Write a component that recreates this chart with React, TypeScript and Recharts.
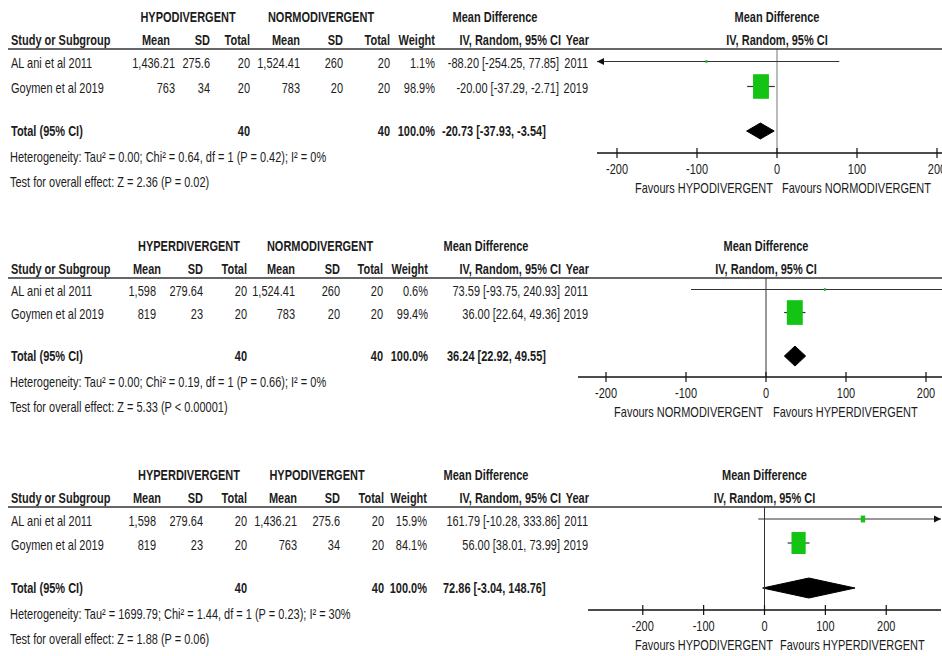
import React from 'react';
import { ComposedChart, XAxis, YAxis, Line, Scatter, Area, ReferenceLine } from 'recharts';

// no narrow face installed: Liberation Sans squeezed to Arial Narrow proportions
const FONT = "'Liberation Sans', Arial, sans-serif";
const SQUEEZE = 0.785;
const INK = '#1c1c1c';
const GREEN = '#14c414';

// shared rows
const STUDIES = ['AL ani et al 2011', 'Goymen et al 2019'];
const YEARS = ['2011', '2019'];
const TICKS = [-200, -100, 0, 100, 200];

// panel 1: hypo vs normo
const P1_GROUPS = ['HYPODIVERGENT', 'NORMODIVERGENT'];
const P1_EXP_MEAN = ['1,436.21', '763'];
const P1_EXP_SD = ['275.6', '34'];
const P1_EXP_N = [20, 20];
const P1_CTL_MEAN = ['1,524.41', '783'];
const P1_CTL_SD = ['260', '20'];
const P1_CTL_N = [20, 20];
const P1_WEIGHT = [1.1, 98.9];
const P1_MD = [-88.2, -20.0];
const P1_LO = [-254.25, -37.29];
const P1_HI = [77.85, -2.71];
const P1_TOTAL = [-20.73, -37.93, -3.54];
const P1_HET = 'Heterogeneity: Tau² = 0.00; Chi² = 0.64, df = 1 (P = 0.42); I² = 0%';
const P1_TEST = 'Test for overall effect: Z = 2.36 (P = 0.02)';
const P1_FAVOURS = ['Favours HYPODIVERGENT', 'Favours NORMODIVERGENT'];

// panel 2: hyper vs normo
const P2_GROUPS = ['HYPERDIVERGENT', 'NORMODIVERGENT'];
const P2_EXP_MEAN = ['1,598', '819'];
const P2_EXP_SD = ['279.64', '23'];
const P2_EXP_N = [20, 20];
const P2_CTL_MEAN = ['1,524.41', '783'];
const P2_CTL_SD = ['260', '20'];
const P2_CTL_N = [20, 20];
const P2_WEIGHT = [0.6, 99.4];
const P2_MD = [73.59, 36.0];
const P2_LO = [-93.75, 22.64];
const P2_HI = [240.93, 49.36];
const P2_TOTAL = [36.24, 22.92, 49.55];
const P2_HET = 'Heterogeneity: Tau² = 0.00; Chi² = 0.19, df = 1 (P = 0.66); I² = 0%';
const P2_TEST = 'Test for overall effect: Z = 5.33 (P < 0.00001)';
const P2_FAVOURS = ['Favours NORMODIVERGENT', 'Favours HYPERDIVERGENT'];

// panel 3: hyper vs hypo
const P3_GROUPS = ['HYPERDIVERGENT', 'HYPODIVERGENT'];
const P3_EXP_MEAN = ['1,598', '819'];
const P3_EXP_SD = ['279.64', '23'];
const P3_EXP_N = [20, 20];
const P3_CTL_MEAN = ['1,436.21', '763'];
const P3_CTL_SD = ['275.6', '34'];
const P3_CTL_N = [20, 20];
const P3_WEIGHT = [15.9, 84.1];
const P3_MD = [161.79, 56.0];
const P3_LO = [-10.28, 38.01];
const P3_HI = [333.86, 73.99];
const P3_TOTAL = [72.86, -3.04, 148.76];
const P3_HET = 'Heterogeneity: Tau² = 1699.79; Chi² = 1.44, df = 1 (P = 0.23); I² = 30%';
const P3_TEST = 'Test for overall effect: Z = 1.88 (P = 0.06)';
const P3_FAVOURS = ['Favours HYPODIVERGENT', 'Favours HYPERDIVERGENT'];

const Y_MIN = -0.5;

// column right edges (group/md headers are centres, totCi is a left edge)
const COLS_WIDE = { meanH: 170, mean: 175, sd: 210, n: 250, mean2: 300, sd2: 343, n2: 390, w: 435, ci: 559, totCi: 442, g1: 188, g2: 321, md: 495 };
const COLS_P2 = { meanH: 161, mean: 156, sd: 203, n: 247, mean2: 295, sd2: 340, n2: 383, w: 428, ci: 560, totCi: 447, g1: 189, g2: 320, md: 486 };
const COLS_P3 = { meanH: 161, mean: 156, sd: 203, n: 247, mean2: 297, sd2: 340, n2: 384, w: 427, ci: 560, totCi: 443, g1: 189, g2: 317, md: 486 };

const PANELS = [
  {
    groups: P1_GROUPS, expMean: P1_EXP_MEAN, expSD: P1_EXP_SD, expN: P1_EXP_N,
    ctlMean: P1_CTL_MEAN, ctlSD: P1_CTL_SD, ctlN: P1_CTL_N, weight: P1_WEIGHT,
    md: P1_MD, lo: P1_LO, hi: P1_HI, total: P1_TOTAL, het: P1_HET, test: P1_TEST, favours: P1_FAVOURS,
    cols: COLS_WIDE,
    layout: { top: 49, bottom: 153, left: 597, right: 957, domain: [-225, 225], yMax: 3.66, totalRow: 2.78, dia: 8, favL: 773, favR: 782, zeroStroke: '#777' },
  },
  {
    groups: P2_GROUPS, expMean: P2_EXP_MEAN, expSD: P2_EXP_SD, expN: P2_EXP_N,
    ctlMean: P2_CTL_MEAN, ctlSD: P2_CTL_SD, ctlN: P2_CTL_N, weight: P2_WEIGHT,
    md: P2_MD, lo: P2_LO, hi: P2_HI, total: P2_TOTAL, het: P2_HET, test: P2_TEST, favours: P2_FAVOURS,
    cols: COLS_P2,
    layout: { top: 278, bottom: 377, left: 578, right: 954, domain: [-235, 235], yMax: 3.8, totalRow: 2.89, dia: 10, favL: 763, favR: 773, zeroStroke: '#333' },
  },
  {
    groups: P3_GROUPS, expMean: P3_EXP_MEAN, expSD: P3_EXP_SD, expN: P3_EXP_N,
    ctlMean: P3_CTL_MEAN, ctlSD: P3_CTL_SD, ctlN: P3_CTL_N, weight: P3_WEIGHT,
    md: P3_MD, lo: P3_LO, hi: P3_HI, total: P3_TOTAL, het: P3_HET, test: P3_TEST, favours: P3_FAVOURS,
    cols: COLS_P3,
    layout: { top: 507, bottom: 610, left: 588, right: 941, domain: [-290, 290], yMax: 3.79, totalRow: 2.875, dia: 10, favL: 773, favR: 780, zeroStroke: '#333' },
  },
];

const f2 = (v: number) => v.toFixed(2);
const ciText = (m: number, l: number, h: number) => `${f2(m)} [${f2(l)}, ${f2(h)}]`;

function T({ x, y, anchor = 'start', bold = false, children }: any) {
  return (
    <text
      transform={`translate(${x},${y + 5}) scale(${SQUEEZE},1)`}
      textAnchor={anchor}
      fontWeight={bold ? 700 : 400}
      fontSize={14}
      fontFamily={FONT}
      fill={INK}
    >
      {children}
    </text>
  );
}

function AxisTick(props: any) {
  const { x, y, payload } = props;
  return (
    <g>
      <line x1={x} x2={x} y1={y - 5} y2={y + 5} stroke="#111" strokeWidth={1.2} />
      <T x={x} y={y + 16} anchor="middle">{payload.value}</T>
    </g>
  );
}

function ArrowDot(props: any) {
  const { cx, cy, payload, index } = props;
  if (payload.arrow === 'left') {
    return <path key={`a${index}`} d={`M${cx},${cy} l7,-3.5 l0,7 z`} fill="#111" />;
  }
  if (payload.arrow === 'right') {
    return <path key={`a${index}`} d={`M${cx},${cy} l-7,-3.5 l0,7 z`} fill="#111" />;
  }
  return <g key={`a${index}`} />;
}

function Box(props: any) {
  const { cx, cy, payload } = props;
  const w = Math.max(1.8, 16 * Math.pow(payload.weight / 100, 0.7));
  const h = w * 1.55;
  return <rect x={cx - w / 2} y={cy - h / 2} width={w} height={h} fill={GREEN} />;
}

function Panel({ p }: any) {
  const L = p.layout;
  const C = p.cols;
  const plotH = L.bottom - L.top;
  const rowPx = plotH / (L.yMax - Y_MIN);
  const [d0, d1] = L.domain;
  const zeroX = L.left + ((0 - d0) / (d1 - d0)) * (L.right - L.left);
  const rowY = (r: number) => L.top + (r - Y_MIN) * rowPx;
  const totalY = rowY(L.totalRow);

  const ciLines = STUDIES.map((_, i) => {
    const a = Math.max(p.lo[i], d0);
    const b = Math.min(p.hi[i], d1);
    return [
      { x: a, y: i, arrow: p.lo[i] < d0 ? 'left' : null },
      { x: b, y: i, arrow: p.hi[i] > d1 ? 'right' : null },
    ];
  });
  const boxes = STUDIES.map((_, i) => ({ x: p.md[i], y: i, weight: p.weight[i] }));
  const h = L.dia / rowPx;
  const r = L.totalRow;
  const diamond = [
    { x: p.total[1], band: [r, r] },
    { x: p.total[0], band: [r - h, r + h] },
    { x: p.total[2], band: [r, r] },
  ];
  const chartW = L.right + 20;
  const chartH = plotH + 50;
  const sumN = (a: number[]) => a.reduce((s, v) => s + v, 0);
  const sumW = sumN(p.weight).toFixed(1);

  return (
    <>
      <div style={{ position: 'absolute', left: 0, top: L.top, width: chartW, height: chartH }}>
        <ComposedChart width={chartW} height={chartH} margin={{ top: 0, right: 20, left: L.left, bottom: 20 }}>
          <XAxis
            type="number"
            dataKey="x"
            domain={L.domain}
            ticks={TICKS}
            interval={0}
            allowDataOverflow
            axisLine={{ stroke: '#111', strokeWidth: 1.5 }}
            tickLine={false}
            tickSize={0}
            tickMargin={0}
            height={30}
            tick={<AxisTick />}
          />
          <YAxis type="number" dataKey="y" domain={[Y_MIN, L.yMax]} reversed hide allowDataOverflow />
          <ReferenceLine x={0} stroke={L.zeroStroke} strokeWidth={1} />
          {ciLines.map((d, i) => (
            <Line
              key={`ci${i}`}
              data={d}
              dataKey="y"
              type="linear"
              stroke="#333"
              strokeWidth={1.2}
              dot={<ArrowDot />}
              activeDot={false}
              isAnimationActive={false}
            />
          ))}
          <Scatter data={boxes} shape={<Box />} isAnimationActive={false} />
          <Area
            data={diamond}
            dataKey={(d: any) => d.band}
            type="linear"
            fill="#000"
            fillOpacity={1}
            stroke="#000"
            strokeWidth={1}
            dot={false}
            activeDot={false}
            isAnimationActive={false}
          />
        </ComposedChart>
      </div>
      <svg width={942} height={656} style={{ position: 'absolute', left: 0, top: 0, pointerEvents: 'none' }}>
        <line x1={8} x2={942} y1={L.top} y2={L.top} stroke="#333" strokeWidth={1.5} />
        <T x={C.g1} y={L.top - 32} anchor="middle" bold>{p.groups[0]}</T>
        <T x={C.g2} y={L.top - 32} anchor="middle" bold>{p.groups[1]}</T>
        <T x={C.md} y={L.top - 32} anchor="middle" bold>Mean Difference</T>
        <T x={zeroX} y={L.top - 32} anchor="middle" bold>Mean Difference</T>
        <T x={11} y={L.top - 9} bold>Study or Subgroup</T>
        <T x={C.meanH} y={L.top - 9} anchor="end" bold>Mean</T>
        <T x={C.sd} y={L.top - 9} anchor="end" bold>SD</T>
        <T x={C.n} y={L.top - 9} anchor="end" bold>Total</T>
        <T x={C.mean2} y={L.top - 9} anchor="end" bold>Mean</T>
        <T x={C.sd2} y={L.top - 9} anchor="end" bold>SD</T>
        <T x={C.n2} y={L.top - 9} anchor="end" bold>Total</T>
        <T x={C.w} y={L.top - 9} anchor="end" bold>Weight</T>
        <T x={561} y={L.top - 9} anchor="end" bold>IV, Random, 95% CI</T>
        <T x={589} y={L.top - 9} anchor="end" bold>Year</T>
        <T x={zeroX} y={L.top - 9} anchor="middle" bold>IV, Random, 95% CI</T>
        {STUDIES.map((s, i) => {
          const y = rowY(i) + 1.5;
          return (
            <g key={s}>
              <T x={11} y={y}>{s}</T>
              <T x={C.mean} y={y} anchor="end">{p.expMean[i]}</T>
              <T x={C.sd} y={y} anchor="end">{p.expSD[i]}</T>
              <T x={C.n} y={y} anchor="end">{p.expN[i]}</T>
              <T x={C.mean2} y={y} anchor="end">{p.ctlMean[i]}</T>
              <T x={C.sd2} y={y} anchor="end">{p.ctlSD[i]}</T>
              <T x={C.n2} y={y} anchor="end">{p.ctlN[i]}</T>
              <T x={C.w} y={y} anchor="end">{p.weight[i].toFixed(1)}%</T>
              <T x={C.ci} y={y} anchor="end">{ciText(p.md[i], p.lo[i], p.hi[i])}</T>
              <T x={588} y={y} anchor="end">{YEARS[i]}</T>
            </g>
          );
        })}
        <T x={11} y={totalY} bold>Total (95% CI)</T>
        <T x={C.n} y={totalY} anchor="end" bold>{sumN(p.expN)}</T>
        <T x={C.n2} y={totalY} anchor="end" bold>{sumN(p.ctlN)}</T>
        <T x={C.w} y={totalY} anchor="end" bold>{sumW}%</T>
        <T x={C.totCi} y={totalY} bold>{ciText(p.total[0], p.total[1], p.total[2])}</T>
        <T x={10} y={totalY + 26}>{p.het}</T>
        <T x={10} y={totalY + 51}>{p.test}</T>
        <T x={L.favL} y={L.bottom + 35} anchor="end">{p.favours[0]}</T>
        <T x={L.favR} y={L.bottom + 35}>{p.favours[1]}</T>
      </svg>
    </>
  );
}

export default function App() {
  return (
    <div style={{ position: 'absolute', left: 0, top: 0, width: 942, height: 656, overflow: 'hidden', background: '#fff' }}>
      {PANELS.map((p, i) => (
        <Panel key={i} p={p} />
      ))}
    </div>
  );
}
